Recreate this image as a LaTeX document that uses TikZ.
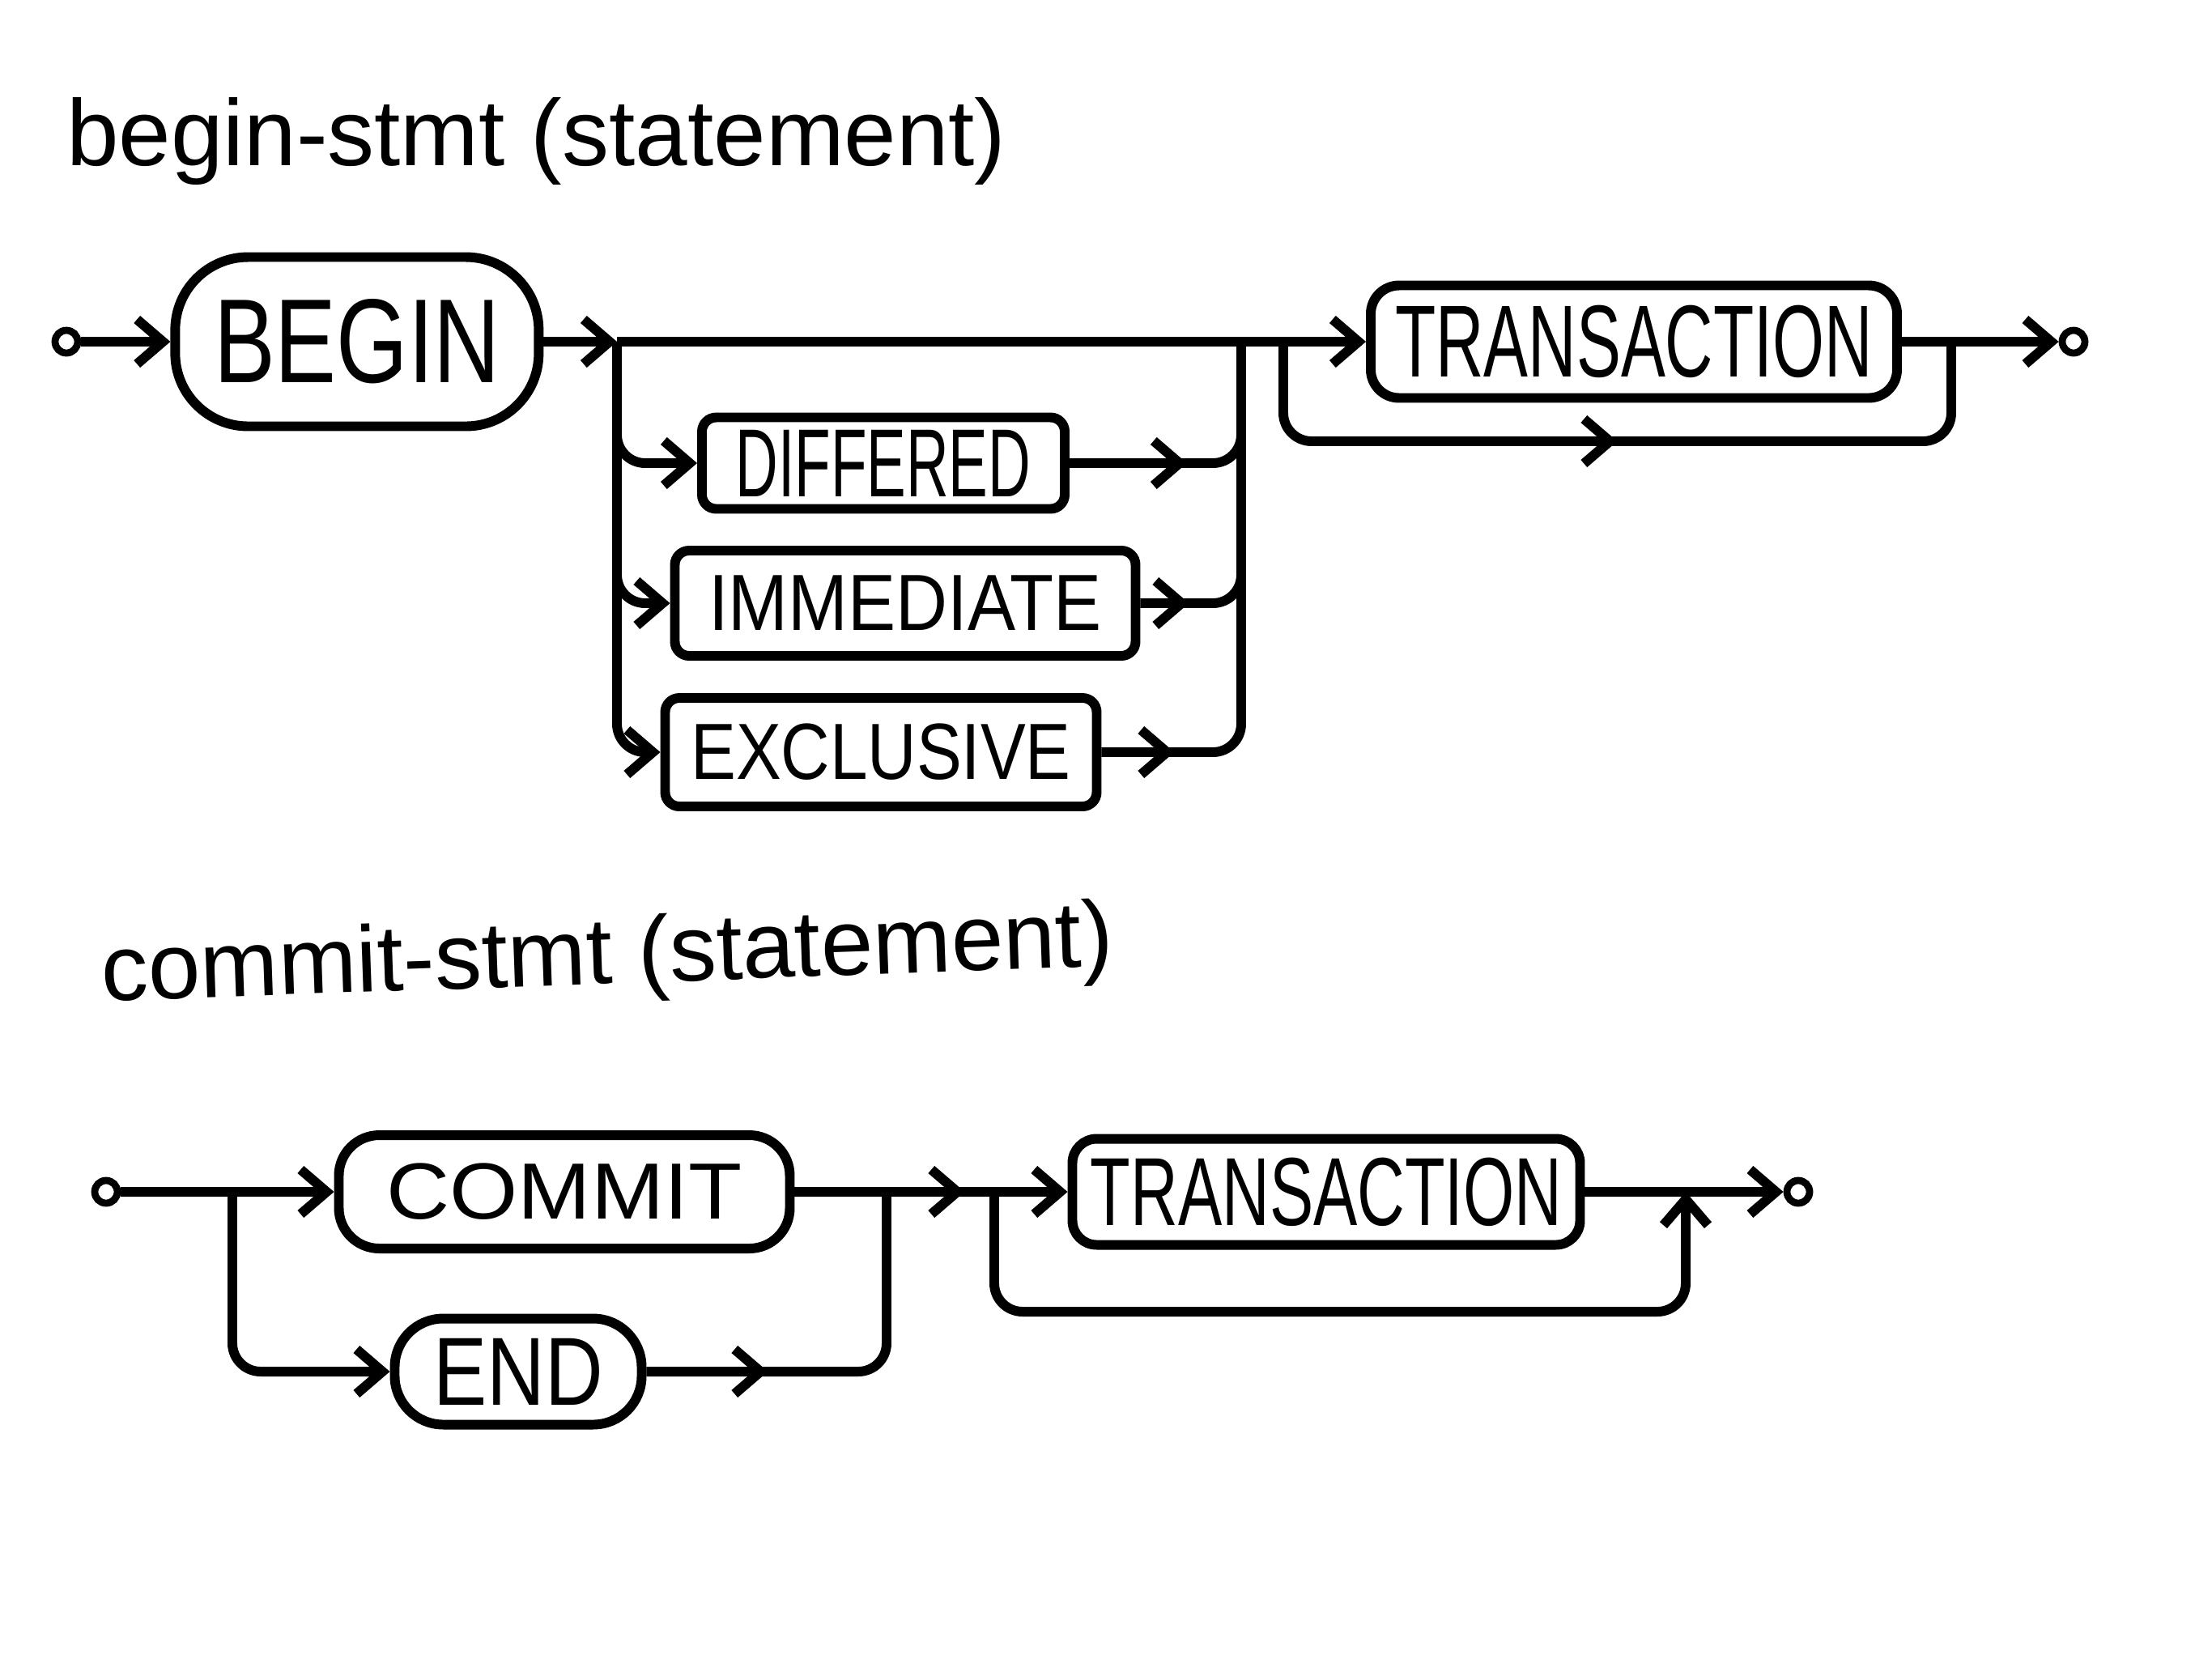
\documentclass[tikz,border=0pt]{standalone}
\usepackage{fontspec}
\setmainfont{Liberation Sans}
\usepackage{graphicx}
\usetikzlibrary{arrows.meta, positioning, calc, decorations.markings}
\tikzset{
  term/.style = {circle, draw, line width=2.5pt, minimum size=0.28cm, inner sep=0pt},
  kw/.style   = {rectangle, draw, line width=3.4pt, rounded corners=#1,
                 inner sep=0pt},
  kw/.default = 5pt,
  ln/.style   = {line width=3.4pt, rounded corners=0.35cm},
  arr/.style  = {ln, -{Straight Barb[length=0.32cm, width=0.55cm]}},
  marr/.style = {ln, postaction={decorate},
                 decoration={markings, mark=at position #1 with
                   {\arrow{Straight Barb[length=0.32cm, width=0.55cm]}}}},
  marr/.default = 0.5,
  ttl/.style  = {anchor=west, font=\fontsize{33}{36}\selectfont},
}
\newcommand{\kwtxt}[3]{{\fontsize{#1}{#1}\selectfont\scalebox{#2}[1]{#3}}}

\begin{document}
\begin{tikzpicture}
  \useasboundingbox (0,0) rectangle (27.32,-20.48);

  % begin-stmt
  \node[ttl] (t1) at (0.7,-1.74) {begin-stmt (statement)};

  \node[term] (s1) at (0.82,-4.22) {};
  \node[kw=0.9cm, minimum width=4.49cm, minimum height=2.09cm, right=1.1cm of s1]
        (begin) {\kwtxt{42}{0.77}{BEGIN}};
  \coordinate (b1) at (7.62,-4.22);
  \coordinate (m1) at (15.33,-4.22);
  \coordinate (k1) at (15.85,-4.22);
  \node[kw=0.35cm, minimum width=6.5cm, minimum height=1.39cm]
        (tr1) at (20.18,-4.22) {\kwtxt{36}{0.65}{TRANSACTION}};
  \coordinate (k2) at (24.1,-4.22);
  \coordinate (lp1) at (20.0,-5.45);
  \node[term] (e1) at (25.61,-4.22) {};

  \node[kw, minimum width=4.48cm, minimum height=1.13cm]
        (dif) at (10.91,-5.72) {\kwtxt{34}{0.61}{DIFFERED}};
  \node[kw, minimum width=5.69cm, minimum height=1.30cm]
        (imm) at (11.18,-7.45) {\kwtxt{28}{0.9}{IMMEDIATE}};
  \node[kw, minimum width=5.33cm, minimum height=1.34cm]
        (exc) at (10.88,-9.29) {\kwtxt{28}{0.85}{EXCLUSIVE}};

  \draw[arr] (s1) -- (begin);
  \draw[arr] (begin) -- (b1);
  \draw[ln] (b1) -- (m1) -- (k1);
  \draw[arr] (k1) -- (tr1);
  \draw[arr] (tr1) -- (e1);
  \draw[marr=0.5] (k1) |- (lp1) -| (k2);

  \draw[arr] (b1) |- (dif);
  \draw[arr] (b1) |- (imm);
  \draw[arr] (b1) |- (exc);
  \draw[marr=1.45cm] (dif) -| (m1);
  \draw[marr=0.6cm] (imm) -| (m1);
  \draw[marr=0.9cm] (exc) -| (m1);

  % commit-stmt
  \node[ttl, rotate=2] (t2) at (1.13,-12.07) {commit-stmt (statement)};

  \node[term] (s2) at (1.31,-14.72) {};
  \coordinate (b2) at (2.87,-14.72);
  \node[kw=0.5cm, minimum width=5.57cm, minimum height=1.40cm]
        (commit) at (6.97,-14.72) {\kwtxt{28}{1.1}{COMMIT}};
  \node[kw=0.6cm, minimum width=3.05cm, minimum height=1.31cm]
        (end) at (6.40,-16.94) {\kwtxt{34}{0.83}{END}};
  \coordinate (m2) at (10.95,-14.72);
  \coordinate (k3) at (12.28,-14.72);
  \node[kw=0.3cm, minimum width=6.27cm, minimum height=1.31cm]
        (tr2) at (16.38,-14.72) {\kwtxt{34}{0.68}{TRANSACTION}};
  \coordinate (k4) at (20.82,-14.72);
  \coordinate (lp2) at (16.5,-16.2);
  \node[term] (e2) at (22.21,-14.72) {};

  \draw[arr] (s2) -- (commit);
  \draw[arr] (b2) |- (end);
  \draw[marr=1.5cm] (end) -| (m2);
  \draw[marr=2.1cm] (commit) -- (k3);
  \draw[arr] (k3) -- (tr2);
  \draw[arr] (tr2) -- (e2);
  \draw[arr] (k3) |- (lp2) -| (k4);

\end{tikzpicture}
\end{document}
